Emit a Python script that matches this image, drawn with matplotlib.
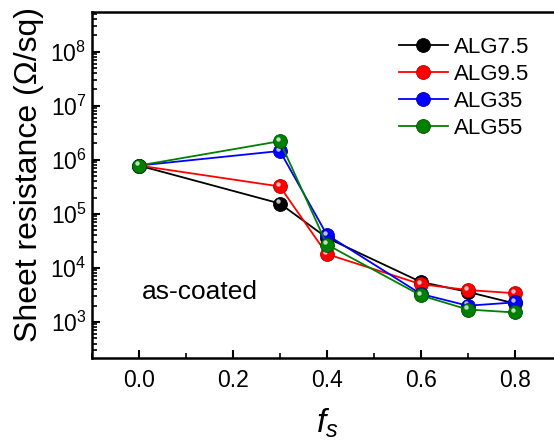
import math
import matplotlib
matplotlib.use("Agg")
import matplotlib.pyplot as plt
import matplotlib.transforms as mtransforms
from matplotlib.ticker import LogLocator, MultipleLocator, FuncFormatter, NullFormatter

plt.rcParams['font.family'] = ['Liberation Sans', 'DejaVu Sans']
plt.rcParams['mathtext.fontset'] = 'custom'
plt.rcParams['mathtext.rm'] = 'Liberation Sans'
plt.rcParams['mathtext.it'] = 'Liberation Sans:italic'

# fraction of surfactant vs sheet resistance
fs = [0.0, 0.3, 0.4, 0.6, 0.7, 0.8]
alg75 = [7.8e5, 1.55e5, 3.6e4, 5.5e3, 3.6e3, 2.2e3]
alg95 = [7.8e5, 3.2e5, 1.8e4, 5.0e3, 3.9e3, 3.4e3]
alg35 = [7.8e5, 1.45e6, 4.1e4, 3.3e3, 2.0e3, 2.3e3]
alg55 = [7.8e5, 2.2e6, 2.7e4, 3.1e3, 1.7e3, 1.5e3]

names = ['ALG7.5', 'ALG9.5', 'ALG35', 'ALG55']
series = [alg75, alg95, alg35, alg55]
colors = ['#000000', '#ff0000', '#0000ff', '#008000']
edges = ['#000000', '#b00000', '#0000a0', '#005000']

fig = plt.figure(figsize=(5.54, 4.41), dpi=100)
ax = fig.add_axes([0.166, 0.188, 0.848, 0.784])

# little white spot to make the balls look shiny
shine = mtransforms.offset_copy(ax.transData, fig=fig, x=-1.6, y=1.6, units='points')

for name, vals, c, ec in zip(names, series, colors, edges):
    ax.plot(fs, vals, '-', color=c, lw=1.3, marker='o', ms=10,
            mfc=c, mec=ec, mew=0.6, label=name)
    ax.plot(fs, vals, 'o', ms=3.2, mfc='white', mec='none', alpha=0.75,
            transform=shine)

ax.set_yscale('log')
ax.set_xlim(-0.1, 0.9)
ax.set_ylim(215, 5.3e8)

ax.xaxis.set_major_locator(MultipleLocator(0.2))
ax.xaxis.set_minor_locator(MultipleLocator(0.1))
ax.xaxis.set_major_formatter(FuncFormatter(lambda v, p: f"{v:.1f}"))
ax.yaxis.set_major_locator(LogLocator(base=10, numticks=20))
ax.yaxis.set_minor_locator(LogLocator(base=10, subs=range(2, 10), numticks=20))
ax.yaxis.set_minor_formatter(NullFormatter())
ax.yaxis.set_major_formatter(FuncFormatter(lambda v, p: r"$10^{%d}$" % round(math.log10(v))))
ax.xaxis.get_offset_text().set_visible(False)
ax.yaxis.get_offset_text().set_visible(False)

ax.tick_params(axis='both', which='major', direction='in', length=6, width=1.5,
               labelsize=16.5, right=False, top=False)
ax.tick_params(axis='both', which='minor', direction='in', length=3.5, width=1.2,
               right=False, top=False)
ax.tick_params(axis='x', pad=8)
ax.tick_params(axis='y', pad=4)
for s in ax.spines.values():
    s.set_linewidth(1.8)

ax.set_ylabel('Sheet resistance (Ω/sq)', fontsize=23, va='center')
ax.yaxis.set_label_coords(-0.134, 0.532)
ax.set_xlabel(r'$f_s$', fontsize=24, va='center')
ax.xaxis.set_label_coords(0.5, -0.188)

ax.text(0.23, 0.19, 'as-coated', transform=ax.transAxes, fontsize=19,
        ha='center', va='center')

ax.legend(loc='upper left', bbox_to_anchor=(0.653, 0.93), frameon=False,
          fontsize=16, handlelength=2.2, handletextpad=0.3, labelspacing=0.28,
          borderaxespad=0, borderpad=0)

fig.savefig('out.png', dpi=100)
